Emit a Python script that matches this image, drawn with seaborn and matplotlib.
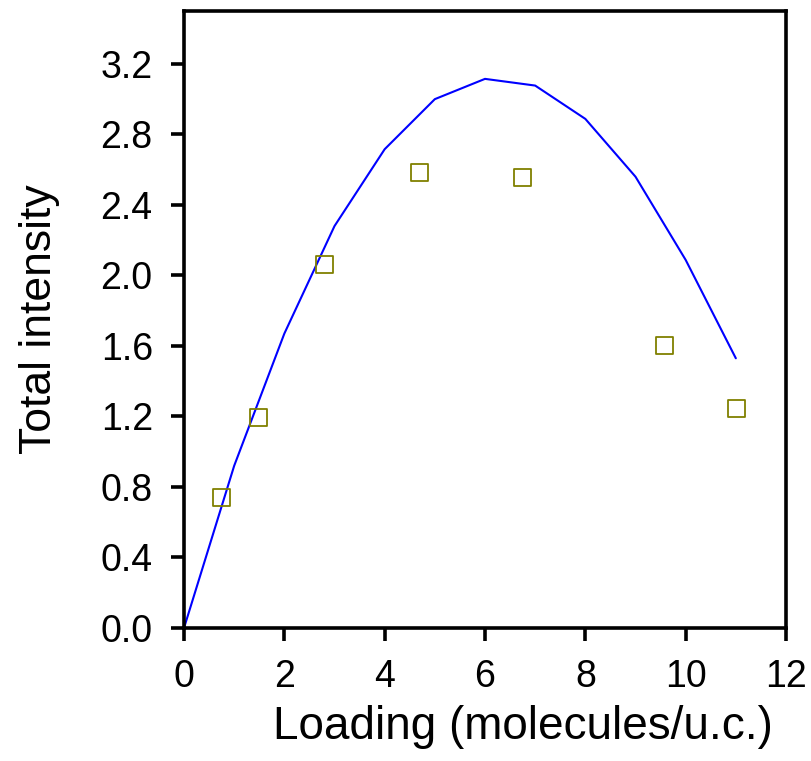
import matplotlib
matplotlib.use("Agg")
import matplotlib.pyplot as plt
import seaborn as sns
import pandas as pd

# Simulated curve (blue line)
line_x = [0, 1, 2, 3, 4, 5, 6, 7, 8, 9, 10, 11]
line_y = [0.0, 0.92, 1.67, 2.28, 2.716, 3.0, 3.115, 3.077, 2.888, 2.56, 2.088, 1.53]

# Experimental points (open squares)
pts_x = [0.74, 1.49, 2.81, 4.69, 6.75, 9.58, 11.02]
pts_y = [0.739, 1.193, 2.06, 2.583, 2.557, 1.60, 1.246]

x_ticks = [0, 2, 4, 6, 8, 10, 12]
y_ticks = [0.0, 0.4, 0.8, 1.2, 1.6, 2.0, 2.4, 2.8, 3.2]
y_tick_labels = ["0.0", "0.4", "0.8", "1.2", "1.6", "2.0", "2.4", "2.8", "3.2"]

sns.set_style("ticks")
plt.rcParams["font.family"] = ["Liberation Sans", "DejaVu Sans"]

fig = plt.figure(figsize=(8.11, 7.61), dpi=100)
ax = fig.add_axes([184 / 811, 1 - 628 / 761, (786 - 184) / 811, (628 - 11) / 761])

df_line = pd.DataFrame({"x": line_x, "y": line_y})
df_pts = pd.DataFrame({"x": pts_x, "y": pts_y})

sns.lineplot(data=df_line, x="x", y="y", ax=ax, color="#0000ff", linewidth=1.5,
             sort=False, zorder=2)
sns.scatterplot(data=df_pts, x="x", y="y", ax=ax, marker="s", s=150,
                facecolor="none", edgecolor="#808000", linewidth=1.3, zorder=3)

ax.set_xlim(0, 12)
ax.set_ylim(0, 3.5)
ax.set_xticks(x_ticks)
ax.set_xticklabels([str(t) for t in x_ticks])
ax.set_yticks(y_ticks)
ax.set_yticklabels(y_tick_labels)

for s in ax.spines.values():
    s.set_linewidth(2.6)
    s.set_color("black")
ax.tick_params(axis="both", direction="out", length=9.5, width=2.6,
               labelsize=27, colors="black", pad=13)
ax.tick_params(top=False, right=False)

ax.set_xlabel("Loading (molecules/u.c.)", fontsize=33, labelpad=7,
              color="black", x=0.563)
ax.set_ylabel("Total intensity", fontsize=32, labelpad=29, color="black")

fig.savefig("out.png", dpi=100)
